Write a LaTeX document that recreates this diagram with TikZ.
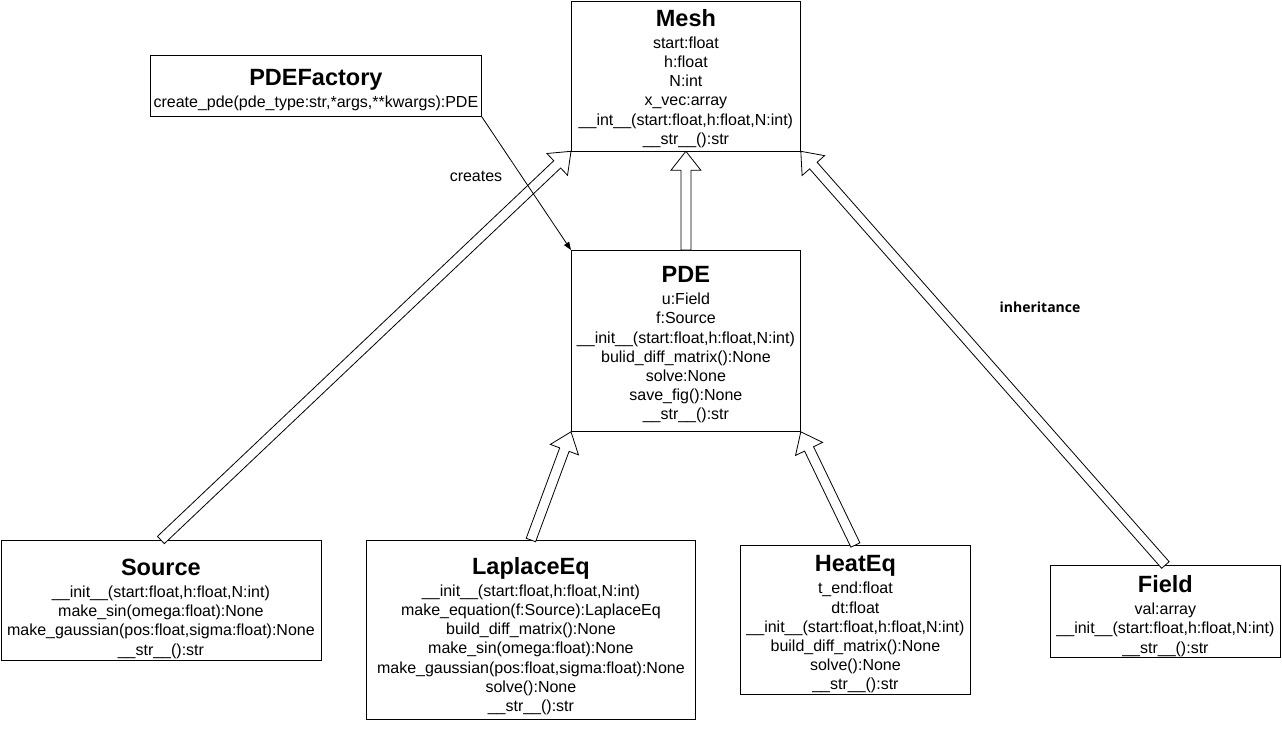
\documentclass[tikz,border=0pt]{standalone}
\usepackage{fontspec}
\setmainfont{Liberation Sans}
\newfontfamily\notefont{Open Sans}
\usetikzlibrary{calc,arrows.meta}

% class name line of a box (optional: strut height, pushes the text down)
\newcommand{\cname}[2][17pt]{{\fontsize{23.5}{26}\selectfont\bfseries\rule{0pt}{#1}#2}\\[3pt]}
% hollow inheritance arrow from #1 to #2
\newcommand{\inherit}[2]{%
  \path ($(#2)!19pt!(#1)$) coordinate (neck);
  \draw[hollow] ($(#1)!5pt!90:(#2)$) -- ($(neck)!5pt!-90:(#1)$) -- ($(neck)!15pt!-90:(#1)$)
    -- (#2) -- ($(neck)!15pt!90:(#1)$) -- ($(neck)!5pt!90:(#1)$) -- ($(#1)!5pt!-90:(#2)$) -- cycle;}

\begin{document}
\begin{tikzpicture}[x=1pt,y=-1pt,
    box/.style={draw, line width=0.8pt, anchor=north west, align=center, inner sep=1pt,
      font=\fontsize{16}{19.2}\selectfont},
    hollow/.style={draw, line width=0.8pt, fill=white, line join=miter},
    link/.style={-{Triangle[length=8pt,width=6pt]}, line width=0.8pt}]
  \useasboundingbox (0,0) rectangle (1282,732);

  \node[box, minimum width=229pt, minimum height=150pt] (mesh) at (571,0.5)
    {\cname[22pt]{Mesh}start:float\\ h:float\\ N:int\\ x\_vec:array\\
     \_\_int\_\_(start:float,h:float,N:int)\\ \_\_str\_\_():str};
  \node[box, minimum width=331pt, minimum height=61pt] (factory) at (150,55)
    {\cname[25pt]{PDEFactory}create\_pde(pde\_type:str,*args,**kwargs):PDE};
  \node[box, minimum width=229pt, minimum height=181pt] (pde) at (571,250)
    {\cname[24pt]{PDE}u:Field\\ f:Source\\ \_\_init\_\_(start:float,h:float,N:int)\\
     bulid\_diff\_matrix():None\\ solve:None\\ save\_fig():None\\ \_\_str\_\_():str};
  \node[box, minimum width=320pt, minimum height=120pt] (source) at (0.5,540)
    {\cname[33pt]{Source}\_\_init\_\_(start:float,h:float,N:int)\\ make\_sin(omega:float):None\\
     make\_gaussian(pos:float,sigma:float):None\\ \_\_str\_\_():str};
  \node[box, minimum width=329pt, minimum height=179pt] (laplace) at (366,540)
    {\cname[29pt]{LaplaceEq}\_\_init\_\_(start:float,h:float,N:int)\\
     make\_equation(f:Source):LaplaceEq\\ build\_diff\_matrix():None\\
     make\_sin(omega:float):None\\ make\_gaussian(pos:float,sigma:float):None\\
     solve():None\\ \_\_str\_\_():str};
  \node[box, minimum width=230pt, minimum height=149pt] (heat) at (740,545)
    {\cname[25pt]{HeatEq}t\_end:float\\ dt:float\\ \_\_init\_\_(start:float,h:float,N:int)\\
     build\_diff\_matrix():None\\ solve():None\\ \_\_str\_\_():str};
  \node[box, minimum width=230pt, minimum height=90pt] (field) at (1050,565)
    {\cname[26pt]{Field}val:array\\ \_\_init\_\_(start:float,h:float,N:int)\\ \_\_str\_\_():str};

  \inherit{pde.north}{mesh.south}
  \inherit{source.north}{mesh.south west}
  \inherit{field.north}{mesh.south east}
  \inherit{laplace.north}{pde.south west}
  \inherit{heat.north}{pde.south east}
  \draw[link] (factory.south east) -- (pde.north west);

  \node[font=\fontsize{16}{19}\selectfont] (creates) at (476,176) {creates};
  \node[font=\notefont\fontsize{14}{17}\selectfont\bfseries] (inh) at (1040,307) {inheritance};
\end{tikzpicture}
\end{document}
